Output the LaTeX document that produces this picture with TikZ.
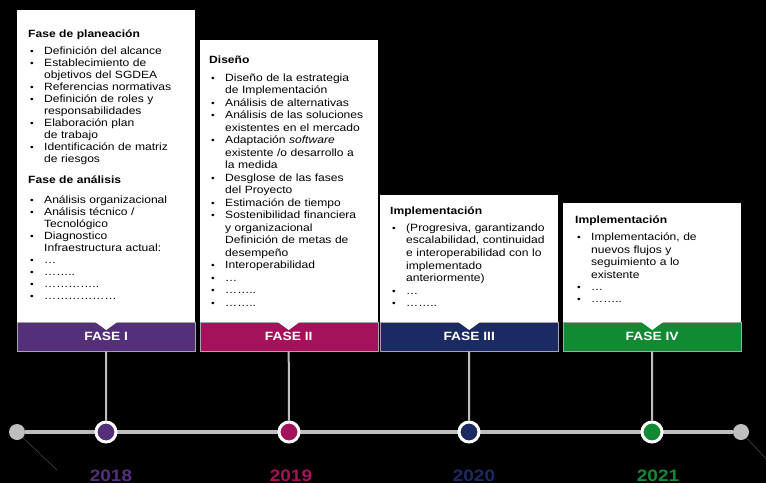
\documentclass[tikz,border=0pt]{standalone}
\usepackage{fontspec}
\setmainfont{Liberation Sans}[FakeStretch=1.15]
\usepackage{enumitem}
\usetikzlibrary{positioning}

\definecolor{faseone}{HTML}{55307A}
\definecolor{fasetwo}{HTML}{A5115A}
\definecolor{fasethree}{HTML}{1B2A63}
\definecolor{fasefour}{HTML}{118A33}
\definecolor{track}{HTML}{BEBEBE}

\newlist{tareas}{itemize}{1}
\setlist[tareas]{label={\small\textbullet}, align=left, leftmargin=16pt, labelindent=2pt,
  labelwidth=5pt, labelsep=9pt, itemsep=0pt, parsep=0pt, topsep=4.6pt, partopsep=0pt}

% white notch on top of a phase bar
\newcommand\muesca[1]{\fill[white] (#1.north) ++(-11pt,0) -- ++(11pt,-8pt) -- ++(11pt,8pt) -- cycle;}

\begin{document}
\begin{tikzpicture}[x=1pt, y=-1pt,
    card/.style={fill=white, anchor=north west, minimum width=178pt, inner sep=0},
    bar/.style={anchor=north west, minimum width=178pt, minimum height=29pt, inner sep=0,
      draw=gray!70, line width=0.4pt, text=white, font=\fontsize{12}{14}\selectfont\bfseries},
    texto/.style={anchor=north west, inner sep=0, text width=170pt, align=left,
      font=\fontsize{10.5}{12.4}\selectfont},
    hito/.style={circle, draw=white, line width=3pt, minimum size=20pt, inner sep=0},
    tope/.style={circle, fill=track, minimum size=16pt, inner sep=0},
    eje/.style={draw=track, line width=4pt},
    poste/.style={draw=track, line width=2pt},
    guia/.style={draw=gray!60!black, line width=0.5pt},
    anio/.style={anchor=base, inner sep=0, font=\fontsize{16.5}{19}\selectfont\bfseries}
  ]
  \useasboundingbox (0,0) rectangle (766,483);
  \fill[black] (0,0) rectangle (766,483);

  % cards
  \node[card, minimum height=312pt] (card1) at (17,10) {};
  \node[card, minimum height=282pt] (card2) at (199.5,40) {};
  \node[card, minimum height=127pt] (card3) at (380,195) {};
  \node[card, minimum height=119pt] (card4) at (563,203) {};

  \node[texto, font=\fontsize{10.5}{12.0}\selectfont] (txt1) at (28,29) {\strut\textbf{Fase de planeación}
    \begin{tareas}
      \item Definición del alcance
      \item Establecimiento de\\objetivos del SGDEA
      \item Referencias normativas
      \item Definición de roles y\\responsabilidades
      \item Elaboración plan\\de trabajo
      \item Identificación de matriz\\de riesgos
    \end{tareas}
    \vspace{5pt}
    \textbf{Fase de análisis}
    \begin{tareas}[topsep=7.5pt]
      \item Análisis organizacional
      \item Análisis técnico /\\Tecnológico
      \item Diagnostico\\Infraestructura actual:
      \item …
      \item ……..
      \item …………..
      \item ………………
    \end{tareas}};

  \node[texto, font=\fontsize{10.5}{12.5}\selectfont] (txt2) at (209,55) {\strut\textbf{Diseño}
    \begin{tareas}
      \item Diseño de la estrategia\\de Implementación
      \item Análisis de alternativas
      \item Análisis de las soluciones\\existentes en el mercado
      \item Adaptación \textit{software}\\existente /o desarrollo a\\la medida
      \item Desglose de las fases\\del Proyecto
      \item Estimación de tiempo
      \item Sostenibilidad financiera\\y organizacional\\Definición de metas de\\desempeño
      \item Interoperabilidad
      \item …
      \item ……..
      \item ……..
    \end{tareas}};

  \node[texto, font=\fontsize{10.5}{12.6}\selectfont] (txt3) at (390,205) {\strut\textbf{Implementación}
    \begin{tareas}
      \item (Progresiva, garantizando\\escalabilidad, continuidad\\e interoperabilidad con lo\\implementado\\anteriormente)
      \item …
      \item ……..
    \end{tareas}};

  \node[texto] (txt4) at (575,215) {\strut\textbf{Implementación}
    \begin{tareas}
      \item Implementación, de\\nuevos flujos y\\seguimiento a lo\\existente
      \item …
      \item ……..
    \end{tareas}};

  % phase bars
  \node[bar, fill=faseone] (bar1) at (17,322) {FASE I};
  \node[bar, fill=fasetwo] (bar2) at (199.5,322) {FASE II};
  \node[bar, fill=fasethree] (bar3) at (380,322) {FASE III};
  \node[bar, fill=fasefour] (bar4) at (563,322) {FASE IV};
  \muesca{bar1}
  \muesca{bar2}
  \muesca{bar3}
  \muesca{bar4}

  % timeline
  \node[tope] (ini) at (17,432) {};
  \node[tope] (fin) at (741,432) {};
  \coordinate (cola1) at (57,470);
  \coordinate (cola2) at (770,463);
  \draw[guia] (ini) -- (cola1);
  \draw[guia] (fin) -- (cola2);
  \draw[eje] (ini) -- (fin);

  \node[hito, fill=faseone] (c1) at (106,432) {};
  \node[hito, fill=fasetwo] (c2) at (289,432) {};
  \node[hito, fill=fasethree] (c3) at (469,432) {};
  \node[hito, fill=fasefour] (c4) at (652,432) {};

  \draw[poste] (bar1.south) -- (c1.north);
  \draw[poste] (bar2.south) -- (c2.north);
  \draw[poste] (bar3.south) -- (c3.north);
  \draw[poste] (bar4.south) -- (c4.north);

  % years
  \node[anio, text=faseone] (y1) at (111,481) {2018};
  \node[anio, text=fasetwo] (y2) at (291,481) {2019};
  \node[anio, text=fasethree] (y3) at (474,481) {2020};
  \node[anio, text=fasefour] (y4) at (658,481) {2021};
\end{tikzpicture}
\end{document}
